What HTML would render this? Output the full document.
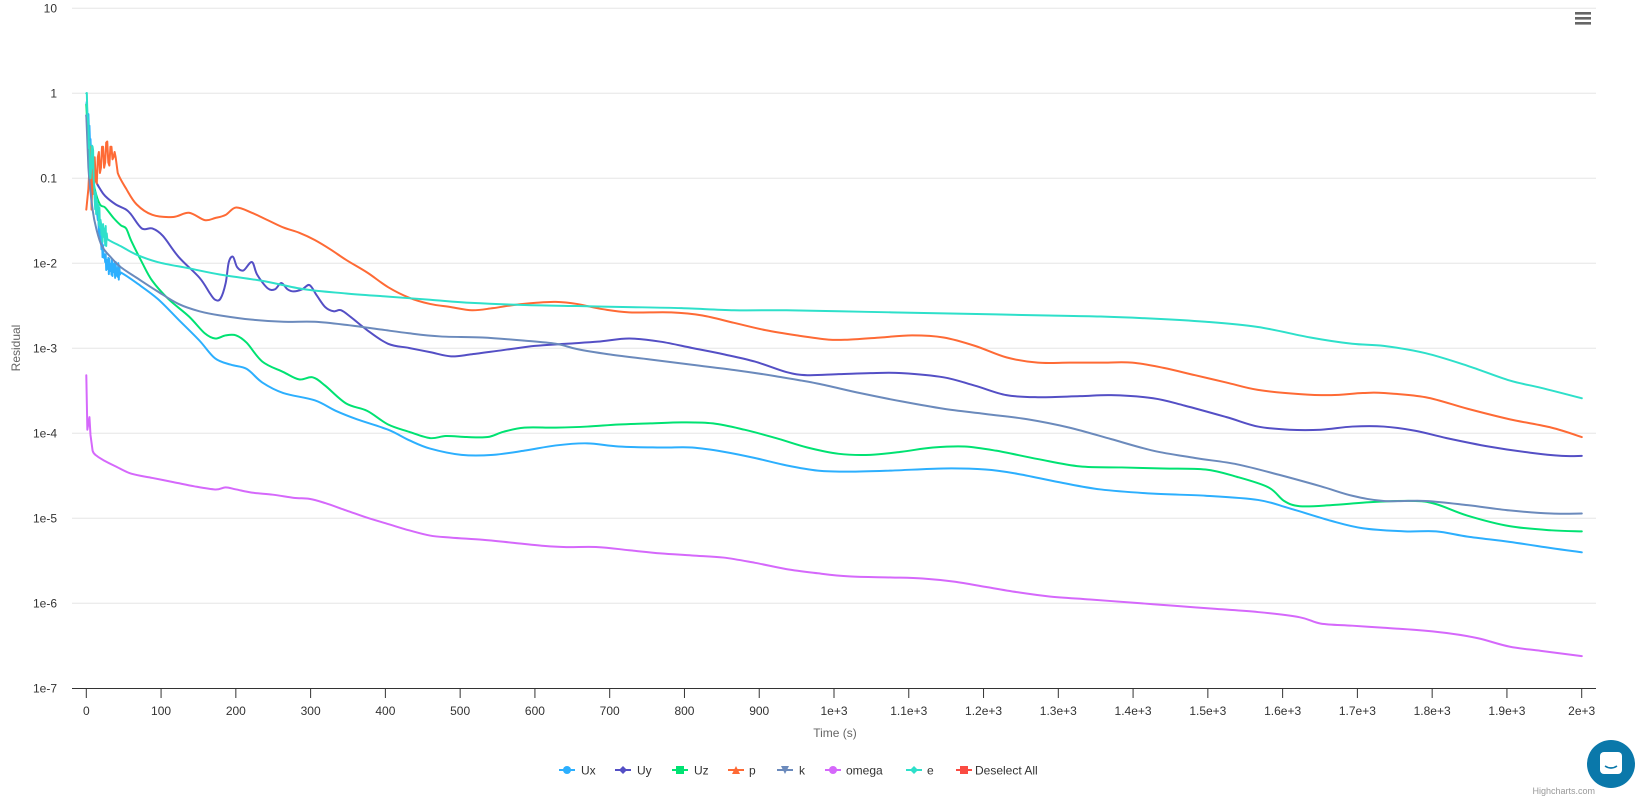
<!DOCTYPE html>
<html><head><meta charset="utf-8"><style>
html,body{margin:0;padding:0;background:#fff;}
svg{display:block;font-family:"Liberation Sans",Arial,sans-serif;}
</style></head><body>
<svg id="s" width="1642" height="797" xmlns="http://www.w3.org/2000/svg"></svg>
<script>
const S=document.getElementById('s');let h='';
const X0=86.3,XS=1495.4/2000,Y1=93.3,DY=85;
const yl=['10','1','0.1','1e-2','1e-3','1e-4','1e-5','1e-6','1e-7'];
for(let i=0;i<9;i++){const y=8.3+i*DY;
 if(i<8)h+=`<line x1="72" x2="1596" y1="${y}" y2="${y}" stroke="#e6e6e6" stroke-width="1"/>`;
 h+=`<text x="57" y="${y+4}" text-anchor="end" font-size="12" fill="#333">${yl[i]}</text>`;}
h+=`<line x1="72" x2="1596" y1="688.5" y2="688.5" stroke="#333" stroke-width="1"/>`;
for(let i=0;i<=20;i++){const x=X0+i*100*XS;
 h+=`<line x1="${x}" x2="${x}" y1="688" y2="698" stroke="#333"/>`;
 const l=i<10?String(i*100):(i==10?'1e+3':i==20?'2e+3':(i/10).toFixed(1)+'e+3');
 h+=`<text x="${x}" y="715" text-anchor="middle" font-size="12" fill="#333">${l}</text>`;}
h+=`<text x="835" y="737" text-anchor="middle" font-size="12" fill="#666">Time (s)</text>`;
h+=`<text transform="translate(20,348) rotate(-90)" text-anchor="middle" font-size="12" fill="#666">Residual</text>`;
const D={
Ux:['#2caffe',[[82,100],[85,120],[88,170],[92,200],[96,230],[100,250],[105,255],[115,260],[130,270],[150,285],[170,305],[190,325],[205,342],[220,348],[235,352],[250,365],[270,375],[300,382],[320,392],[340,400],[370,410],[390,420],[410,428],[440,434],[470,434],[500,430],[530,425],[560,423],[590,426],[630,427],[660,427],[690,431],[720,437],[750,444],[780,449],[810,450],[850,449],[900,447],[940,448],[970,452],[1010,460],[1050,467],[1100,471],[1150,473],[1200,477],[1230,485],[1270,497],[1300,504],[1340,507],[1370,507],[1400,512],[1440,517],[1480,523],[1509,527]]],
Uy:['#544fc5',[[82,110],[86,150],[90,170],[95,180],[100,187],[110,195],[120,200],[125,205],[135,218],[145,218],[155,225],[170,245],[190,265],[200,280],[205,286],[210,285],[215,270],[218,250],[222,245],[226,255],[232,258],[240,250],[245,262],[255,275],[262,276],[268,270],[274,276],[280,278],[288,276],[295,272],[302,282],[310,293],[318,297],[325,296],[335,303],[350,315],[370,328],[390,332],[410,336],[430,340],[450,338],[480,334],[510,330],[540,328],[570,326],[600,323],[630,326],[660,332],[690,338],[720,345],[750,355],[770,358],[800,357],[830,356],[860,356],[900,360],[930,368],[960,377],[990,379],[1030,378],[1060,377],[1100,380],[1130,387],[1170,398],[1200,407],[1230,410],[1260,410],[1290,407],[1320,407],[1350,411],[1380,418],[1420,426],[1460,432],[1490,435],[1509,435]]],
Uz:['#00e272',[[82,100],[85,150],[90,180],[95,195],[100,198],[108,208],[115,215],[120,218],[125,230],[135,250],[145,268],[160,285],[180,302],[195,318],[205,323],[215,320],[225,320],[235,327],[250,345],[270,355],[285,362],[298,360],[310,368],[330,385],[350,392],[370,405],[390,412],[410,418],[425,416],[445,417],[465,417],[480,412],[500,408],[530,408],[560,407],[590,405],[620,404],[650,403],[680,404],[710,410],[740,418],[770,427],[800,433],[830,434],[860,431],[890,427],[920,426],[950,430],[990,438],[1030,445],[1070,446],[1110,447],[1150,448],[1180,455],[1210,465],[1225,478],[1240,483],[1270,482],[1310,479],[1350,478],[1370,481],[1400,492],[1440,502],[1480,506],[1509,507]]],
k:['#6b8abc',[[82,110],[84,160],[88,200],[92,220],[97,235],[105,245],[115,255],[130,265],[150,278],[170,290],[190,297],[210,301],[240,305],[270,307],[300,307],[330,310],[360,314],[390,318],[420,321],[460,322],[500,325],[530,328],[550,333],[580,338],[620,343],[660,348],[700,353],[740,359],[780,366],[820,375],[860,383],[900,390],[940,395],[980,400],[1020,408],[1060,419],[1100,430],[1140,437],[1180,443],[1220,453],[1260,464],[1290,473],[1320,478],[1360,478],[1400,482],[1440,487],[1480,490],[1509,490]]],
omega:['#d568fb',[[82,358],[83,410],[85,398],[86,415],[88,430],[92,435],[100,440],[110,445],[125,452],[145,456],[165,460],[185,464],[205,467],[215,465],[225,467],[240,470],[260,472],[280,475],[295,476],[310,480],[330,487],[350,494],[370,500],[390,506],[410,511],[430,513],[460,515],[490,518],[520,521],[540,522],[570,522],[600,525],[630,528],[660,530],[690,532],[720,537],[750,543],[780,547],[810,550],[850,551],[880,552],[910,555],[940,560],[970,565],[1000,569],[1040,572],[1080,575],[1120,578],[1160,581],[1200,584],[1240,589],[1260,595],[1290,597],[1320,599],[1350,601],[1380,604],[1410,609],[1440,617],[1470,621],[1509,626]]],
e:['#2ee0ca',[[82,89],[84,120],[86,170],[88,140],[90,190],[93,200],[97,220],[102,228],[115,235],[130,243],[150,250],[180,256],[210,262],[250,268],[290,276],[330,280],[370,283],[410,286],[450,289],[500,291],[550,292],[600,293],[650,294],[700,296],[750,296],[800,297],[850,298],[900,299],[950,300],[1000,301],[1050,302],[1100,304],[1150,307],[1200,312],[1250,322],[1290,328],[1320,330],[1360,337],[1400,349],[1440,363],[1470,370],[1509,380]]],
p:['#fe6a35',[[82,200],[84,180],[86,140],[87,200],[88,160],[89,185],[90,150],[91,172],[92,175],[93,150],[94,145],[95,165],[96,160],[97,140],[98,140],[99,160],[100,155],[101,136],[102,135],[103,155],[104,158],[105,140],[106,140],[107,152],[108,150],[109,145],[110,150],[112,165],[120,180],[130,195],[145,205],[165,207],[180,203],[195,210],[205,208],[215,205],[225,198],[240,203],[255,210],[270,217],[285,222],[300,229],[315,238],[330,248],[350,260],[370,274],[390,284],[410,290],[430,293],[450,296],[470,294],[490,291],[510,289],[530,288],[550,290],[575,295],[600,298],[640,298],[670,301],[700,308],[730,315],[760,320],[790,324],[810,324],[840,322],[870,320],[900,322],[930,330],[960,341],[990,346],[1020,346],[1050,346],[1080,346],[1110,351],[1140,358],[1170,365],[1200,372],[1240,376],[1270,377],[1300,375],[1320,375],[1360,379],[1400,390],[1440,400],[1480,408],[1509,417]]]
};
function noisy(pts,amp,xmax){const o=[];for(let i=0;i<pts.length-1;i++){const[a,b]=[pts[i],pts[i+1]];o.push(a);
 if(a[0]<xmax){for(let x=a[0]+0.5;x<b[0];x+=0.5){const t=(x-a[0])/(b[0]-a[0]);o.push([x,a[1]+(b[1]-a[1])*t+(Math.sin(x*7.3)*amp)]);}}}
 o.push(pts[pts.length-1]);return o;}
D.Ux[1]=noisy(D.Ux[1],8,112);D.e[1]=noisy(D.e[1],10,100);
function smooth(p){let d=`M${p[0][0]},${p[0][1]}`;
 for(let i=0;i<p.length-1;i++){const p0=p[i-1]||p[i],p1=p[i],p2=p[i+1],p3=p[i+2]||p2;
  if(p2[0]-p1[0]<3){d+=`L${p2[0]},${p2[1]}`;continue;}
  const c1=[p1[0]+(p2[0]-p0[0])/6,p1[1]+(p2[1]-p0[1])/6],c2=[p2[0]-(p3[0]-p1[0])/6,p2[1]-(p3[1]-p1[1])/6];
  d+=`C${c1[0].toFixed(1)},${c1[1].toFixed(1)} ${c2[0].toFixed(1)},${c2[1].toFixed(1)} ${p2[0]},${p2[1]}`;}
 return d;}
h+=`<g transform="translate(${X0},${Y1}) scale(1.048) translate(-82,-89)" fill="none" stroke-width="1.9" stroke-linejoin="round" stroke-linecap="round">`;
for(const k of ['Ux','Uy','Uz','p','k','omega','e']){const [c,p]=D[k];
 h+=`<path stroke="${c}" d="${smooth(p)}"/>`;}
h+='</g>';
const L=[['Ux','#2caffe',567,581,'c'],['Uy','#544fc5',623,637,'d'],['Uz','#00e272',680,694,'s'],['p','#fe6a35',736,749,'t'],['k','#6b8abc',785,799,'v'],['omega','#d568fb',833,846,'c'],['e','#2ee0ca',914,927,'d'],['Deselect All','#fa4b42',964,975,'s']];
for(const [n,c,sx,tx,m] of L){const y=770;
 h+=`<line x1="${sx-8}" x2="${sx+8}" y1="${y}" y2="${y}" stroke="${c}" stroke-width="2"/>`;
 if(m=='c')h+=`<circle cx="${sx}" cy="${y}" r="4" fill="${c}"/>`;
 if(m=='d')h+=`<path d="M${sx} ${y-4}L${sx+4} ${y}L${sx} ${y+4}L${sx-4} ${y}Z" fill="${c}"/>`;
 if(m=='s')h+=`<rect x="${sx-4}" y="${y-4}" width="8" height="8" fill="${c}"/>`;
 if(m=='t')h+=`<path d="M${sx} ${y-4}L${sx+4} ${y+4}L${sx-4} ${y+4}Z" fill="${c}"/>`;
 if(m=='v')h+=`<path d="M${sx} ${y+4}L${sx+4} ${y-4}L${sx-4} ${y-4}Z" fill="${c}"/>`;
 h+=`<text x="${tx}" y="${y+4.5}" font-size="12" fill="#333">${n}</text>`;}
for(let i=0;i<3;i++)h+=`<rect x="1575" y="${12+i*5}" width="16" height="2.6" fill="#666"/>`;
h+=`<circle cx="1611" cy="764" r="24" fill="#0a78aa"/><rect x="1600" y="752" width="22" height="22" rx="4" fill="#fff"/><path d="M1605 766 Q1611 770 1617 766" stroke="#0a78aa" stroke-width="1.6" fill="none"/>`;
h+=`<text x="1595" y="794" text-anchor="end" font-size="9" fill="#999">Highcharts.com</text>`;
S.innerHTML=h;
</script>
</body></html>
